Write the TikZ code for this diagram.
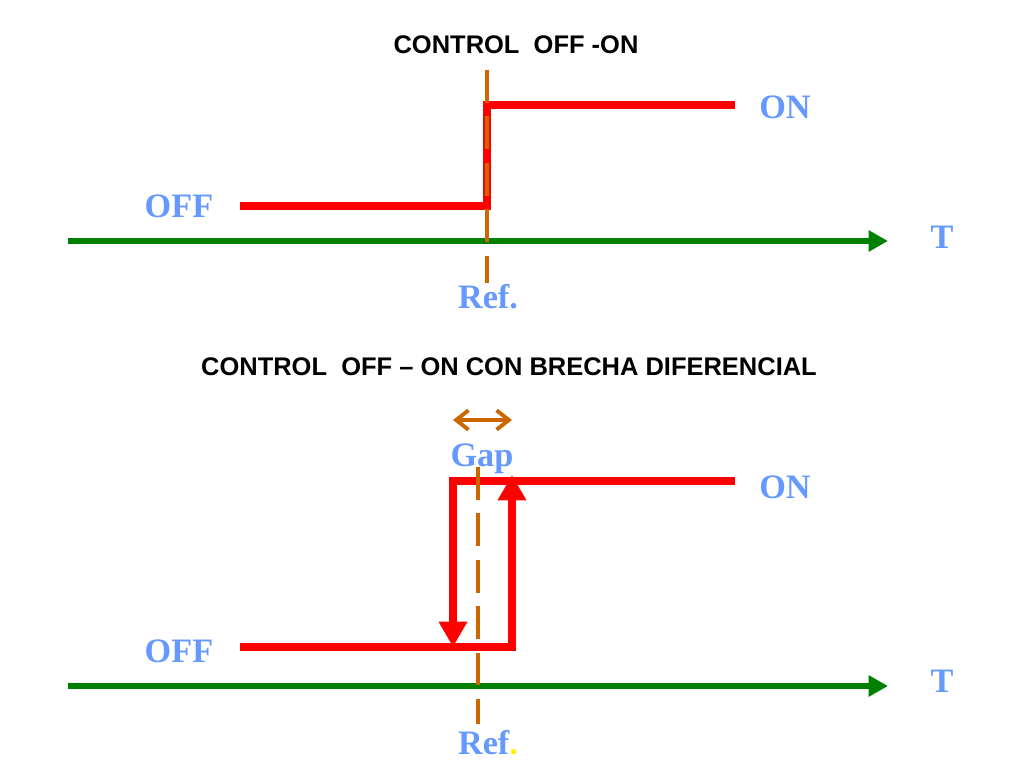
\documentclass[tikz,border=0pt]{standalone}
\usepackage{fontspec}
\setmainfont{Liberation Serif}
\setsansfont{Liberation Sans}
\usetikzlibrary{arrows.meta}
\definecolor{lblue}{RGB}{102,153,255}
\definecolor{refor}{RGB}{204,102,0}
\definecolor{axgreen}{RGB}{0,128,0}

\begin{document}
\begin{tikzpicture}[x=0.02cm, y=-0.02cm,
	lbl/.style={text=lblue, font=\fontsize{19.5}{22}\selectfont\bfseries, anchor=base, inner sep=0pt},
	ttl/.style={font=\sffamily\bfseries\fontsize{14.5}{17}\selectfont, anchor=base, inner sep=0pt},
	axis/.style={axgreen, line width=3.2pt, -{Triangle[length=11pt,width=11.5pt]}},
	sig/.style={red, line width=4.6pt},
	sigarr/.style={sig, -{Triangle[length=14.5pt,width=15.5pt]}},
	refl/.style={refor, line width=2.8pt, dash pattern=on 18.7pt off 7.7pt}]
	
	\useasboundingbox (0,0) rectangle (1024,768);
	
	% control off - on
	\node[ttl] (tit1) at (516,53) {CONTROL\ \ OFF -ON};
	\coordinate (ax1) at (68,241);
	\coordinate (ax2) at (888,241);
	\draw[axis] (ax1) -- (ax2);
	\coordinate (s1) at (240,206);
	\coordinate (s2) at (487,206);
	\coordinate (s3) at (487,105);
	\coordinate (s4) at (735,105);
	\draw[sig] (s1) -- (s2) -- (s3) -- (s4);
	\coordinate (r1) at (487,70);
	\coordinate (r2) at (487,283);
	\draw[refl] (r1) -- (r2);
	\node[lbl] (off1) at (179,217) {OFF};
	\node[lbl] (on1) at (785,118) {ON};
	\node[lbl] (T1) at (942,248) {T};
	\node[lbl] (ref1) at (488,308) {Ref.};
	
	% con brecha diferencial
	\node[ttl] (tit2) at (509,375) {CONTROL\ \ OFF -- ON CON BRECHA DIFERENCIAL};
	\coordinate (g1) at (453,420);
	\coordinate (g2) at (512,420);
	\draw[refor, line width=2.2pt, {Straight Barb[length=7pt,width=11pt]}-{Straight Barb[length=7pt,width=11pt]}] (g1) -- (g2);
	\node[lbl] (gap) at (482,466) {Gap};
	\coordinate (bx1) at (68,686);
	\coordinate (bx2) at (888,686);
	\draw[axis] (bx1) -- (bx2);
	\coordinate (u1) at (240,647);
	\coordinate (u2) at (512,647);
	\coordinate (u3) at (512,475);
	\draw[sigarr] (u1) -- (u2) -- (u3);
	\coordinate (d1) at (735,481);
	\coordinate (d2) at (453,481);
	\coordinate (d3) at (453,647);
	\draw[sigarr] (d1) -- (d2) -- (d3);
	\coordinate (q1) at (478,467);
	\coordinate (q2) at (478,724);
	\draw[refl] (q1) -- (q2);
	\node[lbl] (off2) at (179,662) {OFF};
	\node[lbl] (on2) at (785,498) {ON};
	\node[lbl] (T2) at (942,692) {T};
	\node[lbl] (ref2) at (488,754) {Ref\textcolor{yellow}{.}};
	
\end{tikzpicture}
\end{document}
